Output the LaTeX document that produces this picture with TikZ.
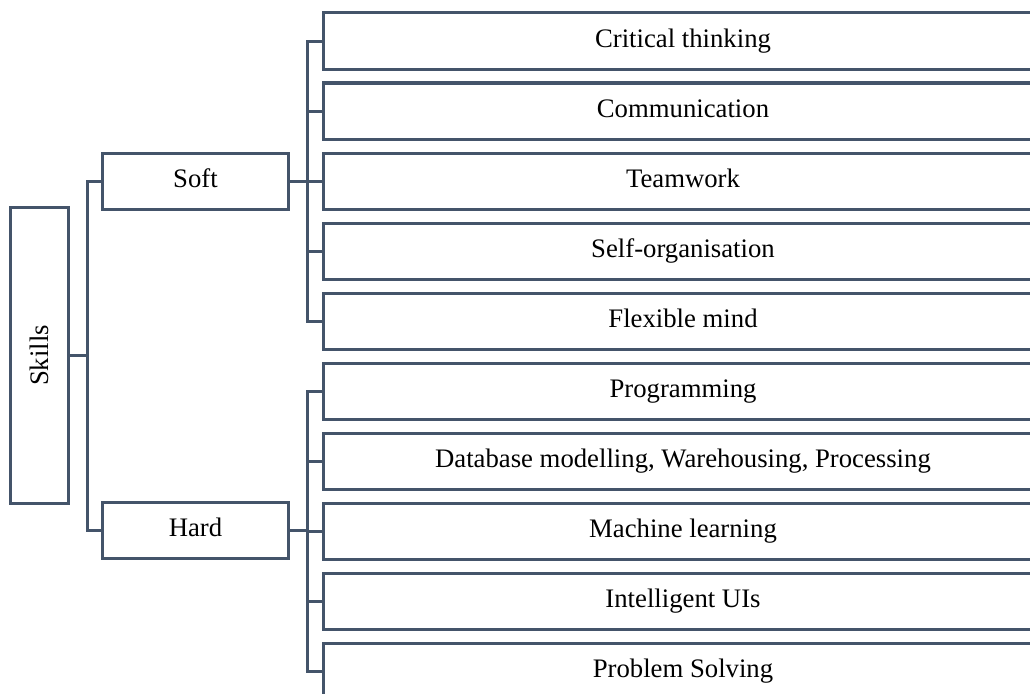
\documentclass[tikz,border=0pt]{standalone}
\usepackage{fontspec}
\setmainfont{Liberation Serif}
\usetikzlibrary{positioning}
\definecolor{linecol}{RGB}{68,84,106}

\begin{document}
\begin{tikzpicture}[x=0.025cm,y=-0.025cm,
	box/.style={draw=linecol,line width=0.075cm,rectangle,inner sep=0pt,
		font=\fontsize{19}{23}\selectfont},
	group/.style={box,minimum width=4.625cm,minimum height=1.4cm,text height=12.5pt,text depth=3.2pt},
	leaf/.style={box,minimum width=17.975cm,minimum height=1.4cm,text height=12.5pt,text depth=3.2pt},
	link/.style={draw=linecol,line width=0.075cm}]
\useasboundingbox (0,0) rectangle (1030,693);
\clip (0,0) rectangle (1030,693);
\node[box,minimum width=1.425cm,minimum height=7.375cm] (skills) at (39.5,355.5) {\rotatebox{90}{Skills}};
\node[group] (soft) at (195.5,181) {Soft};
\node[group] (hard) at (195.5,530) {Hard};
\draw[link] (skills.east) -- ++(17.5,0) |- (soft.west);
\draw[link] (skills.east) -- ++(17.5,0) |- (hard.west);
\foreach \txt [count=\i from 0] in {Critical thinking,Communication,Teamwork,Self-organisation,Flexible mind}
{
	\node[leaf] (s\i) at (683,41+70*\i) {\txt};
	\draw[link] (soft.east) -- ++(17.5,0) |- (s\i.west);
}
\foreach \txt [count=\i from 0] in {Programming,{Database modelling, Warehousing, Processing},Machine learning,Intelligent UIs,Problem Solving}
{
	\node[leaf] (h\i) at (683,391+70*\i) {\txt};
	\draw[link] (hard.east) -- ++(17.5,0) |- (h\i.west);
}
\end{tikzpicture}
\end{document}
